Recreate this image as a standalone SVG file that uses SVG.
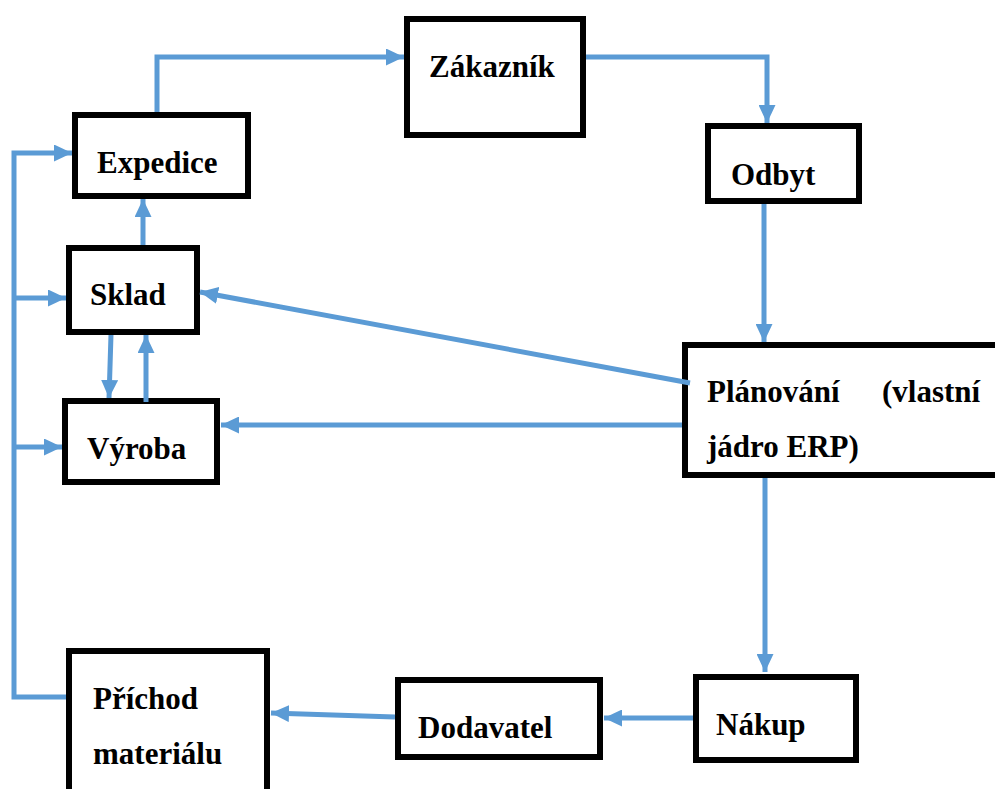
<svg xmlns="http://www.w3.org/2000/svg" width="995" height="789" viewBox="0 0 995 789">
<style>
.box{fill:#fff;stroke:#000;stroke-width:6}
.lbl{font-family:"Liberation Serif","Times New Roman",serif;font-weight:bold;font-size:31px;fill:#000}
.c{fill:none;stroke:#5B9BD5;stroke-width:5}
</style>
<defs>
<marker id="ah" markerUnits="userSpaceOnUse" markerWidth="18" markerHeight="17" refX="18" refY="8.5" orient="auto">
<path d="M0,0 L18,8.5 L0,17 z" fill="#5B9BD5"/>
</marker>
</defs>
<rect width="995" height="789" fill="#fff"/>
<g id="n-zakaznik"><rect class="box" x="407" y="19" width="176" height="116"/><text class="lbl" x="429" y="77">Zákazník</text></g>
<g id="n-expedice"><rect class="box" x="75" y="115" width="173" height="81"/><text class="lbl" x="97" y="173">Expedice</text></g>
<g id="n-odbyt"><rect class="box" x="708" y="126" width="151" height="75"/><text class="lbl" x="731" y="185">Odbyt</text></g>
<g id="n-sklad"><rect class="box" x="69" y="248" width="128" height="84"/><text class="lbl" x="90" y="305">Sklad</text></g>
<g id="n-planovani"><rect class="box" x="685" y="345" width="320" height="130"/><text class="lbl" y="402"><tspan x="707">Plánování</tspan><tspan x="882">(vlastní</tspan></text><text class="lbl" x="707" y="457">jádro ERP)</text></g>
<g id="n-vyroba"><rect class="box" x="65" y="401" width="152" height="81"/><text class="lbl" x="87" y="459">Výroba</text></g>
<g id="n-prichod"><rect class="box" x="69" y="651" width="198" height="150"/><text class="lbl" x="93" y="709">Příchod</text><text class="lbl" x="93" y="764">materiálu</text></g>
<g id="n-dodavatel"><rect class="box" x="398" y="680" width="202" height="77"/><text class="lbl" x="418" y="738">Dodavatel</text></g>
<g id="n-nakup"><rect class="box" x="696" y="677" width="160" height="83"/><text class="lbl" x="716" y="735">Nákup</text></g>
<g id="connectors">
<path class="c" d="M157 112 V57 H404" marker-end="url(#ah)"/>
<path class="c" d="M586 57 H767 V123" marker-end="url(#ah)"/>
<path class="c" d="M764 204 V342" marker-end="url(#ah)"/>
<path class="c" d="M690 383 L200 292" marker-end="url(#ah)"/>
<path class="c" d="M682 425 H221" marker-end="url(#ah)"/>
<path class="c" d="M765 478 V672" marker-end="url(#ah)"/>
<path class="c" d="M693 718 H604" marker-end="url(#ah)"/>
<path class="c" d="M395 717 L271 713" marker-end="url(#ah)"/>
<path class="c" d="M143 245 V199" marker-end="url(#ah)"/>
<path class="c" d="M111 335 L109 398" marker-end="url(#ah)"/>
<path class="c" d="M146 402 V335" marker-end="url(#ah)"/>
<path class="c" d="M66 697 H14 V153 H72" marker-end="url(#ah)"/>
<path class="c" d="M14 298 H66" marker-end="url(#ah)"/>
<path class="c" d="M14 447 H62" marker-end="url(#ah)"/>
</g>
</svg>
